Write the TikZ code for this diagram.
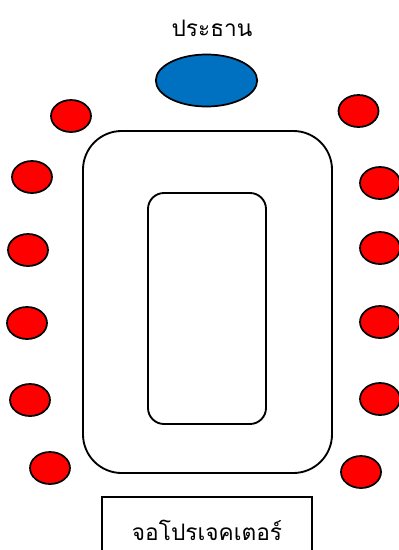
\documentclass[tikz,border=0pt]{standalone}
\usepackage{fontspec}
\newfontfamily\thaifont[Script=Thai]{Loma}
\definecolor{roomblue}{RGB}{0,112,192}
\definecolor{roomred} {RGB}{255,0,0}
\usepackage{tikz}
\usetikzlibrary{shapes.geometric,positioning}
\tikzset{
  seat/.style={ellipse,draw=black,line width=1.3pt,fill=roomred,
               minimum width=30pt,minimum height=24pt,inner sep=0pt},
  headseat/.style={ellipse,draw=black,line width=1.3pt,fill=roomblue,
               minimum width=76pt,minimum height=39pt,inner sep=0pt},
  tablebox/.style={rectangle,rounded corners=#1,draw=black,line width=1.4pt,
               inner sep=0pt},
  tablebox/.default=10pt,
  thailabel/.style={font=\thaifont\fontsize{17pt}{20pt}\selectfont,inner sep=0pt},
}

\begin{document}
\begin{tikzpicture}[x=0.75pt,y=-0.75pt]
    \clip (0,0) rectangle (399,550);
    \node[thailabel] (headlabel) at (212,28) {ประธาน};
    \node[headseat] (head) at (206.5,80.5) {};
    % tables
    \node[tablebox=29pt,minimum width=186.75pt,minimum height=256.5pt]
          (table) at (207.5,302) {};
    \node[tablebox=12pt,minimum width=88.5pt,minimum height=173.25pt]
          (tabletop) at (207,308.5) {};
    % seats along both sides
    \foreach \i/\x/\y in {1/71/116, 2/32/177, 3/28/250, 4/27/323, 5/30/400, 6/50/468}{
      \node[seat] (left\i) at (\x,\y) {};
    }
    \foreach \i/\x/\y in {1/358.5/111, 2/380/183, 3/380/248, 4/380/322, 5/380/399, 6/361/472}{
      \node[seat] (right\i) at (\x,\y) {};
    }
    % projector screen
    \node[rectangle,draw=black,line width=1.4pt,minimum width=157.5pt,
          minimum height=50pt] (screen) at (207,530) {};
    \node[thailabel] (screenlabel) at (screen.center) {จอโปรเจคเตอร์};
\end{tikzpicture}
\end{document}
